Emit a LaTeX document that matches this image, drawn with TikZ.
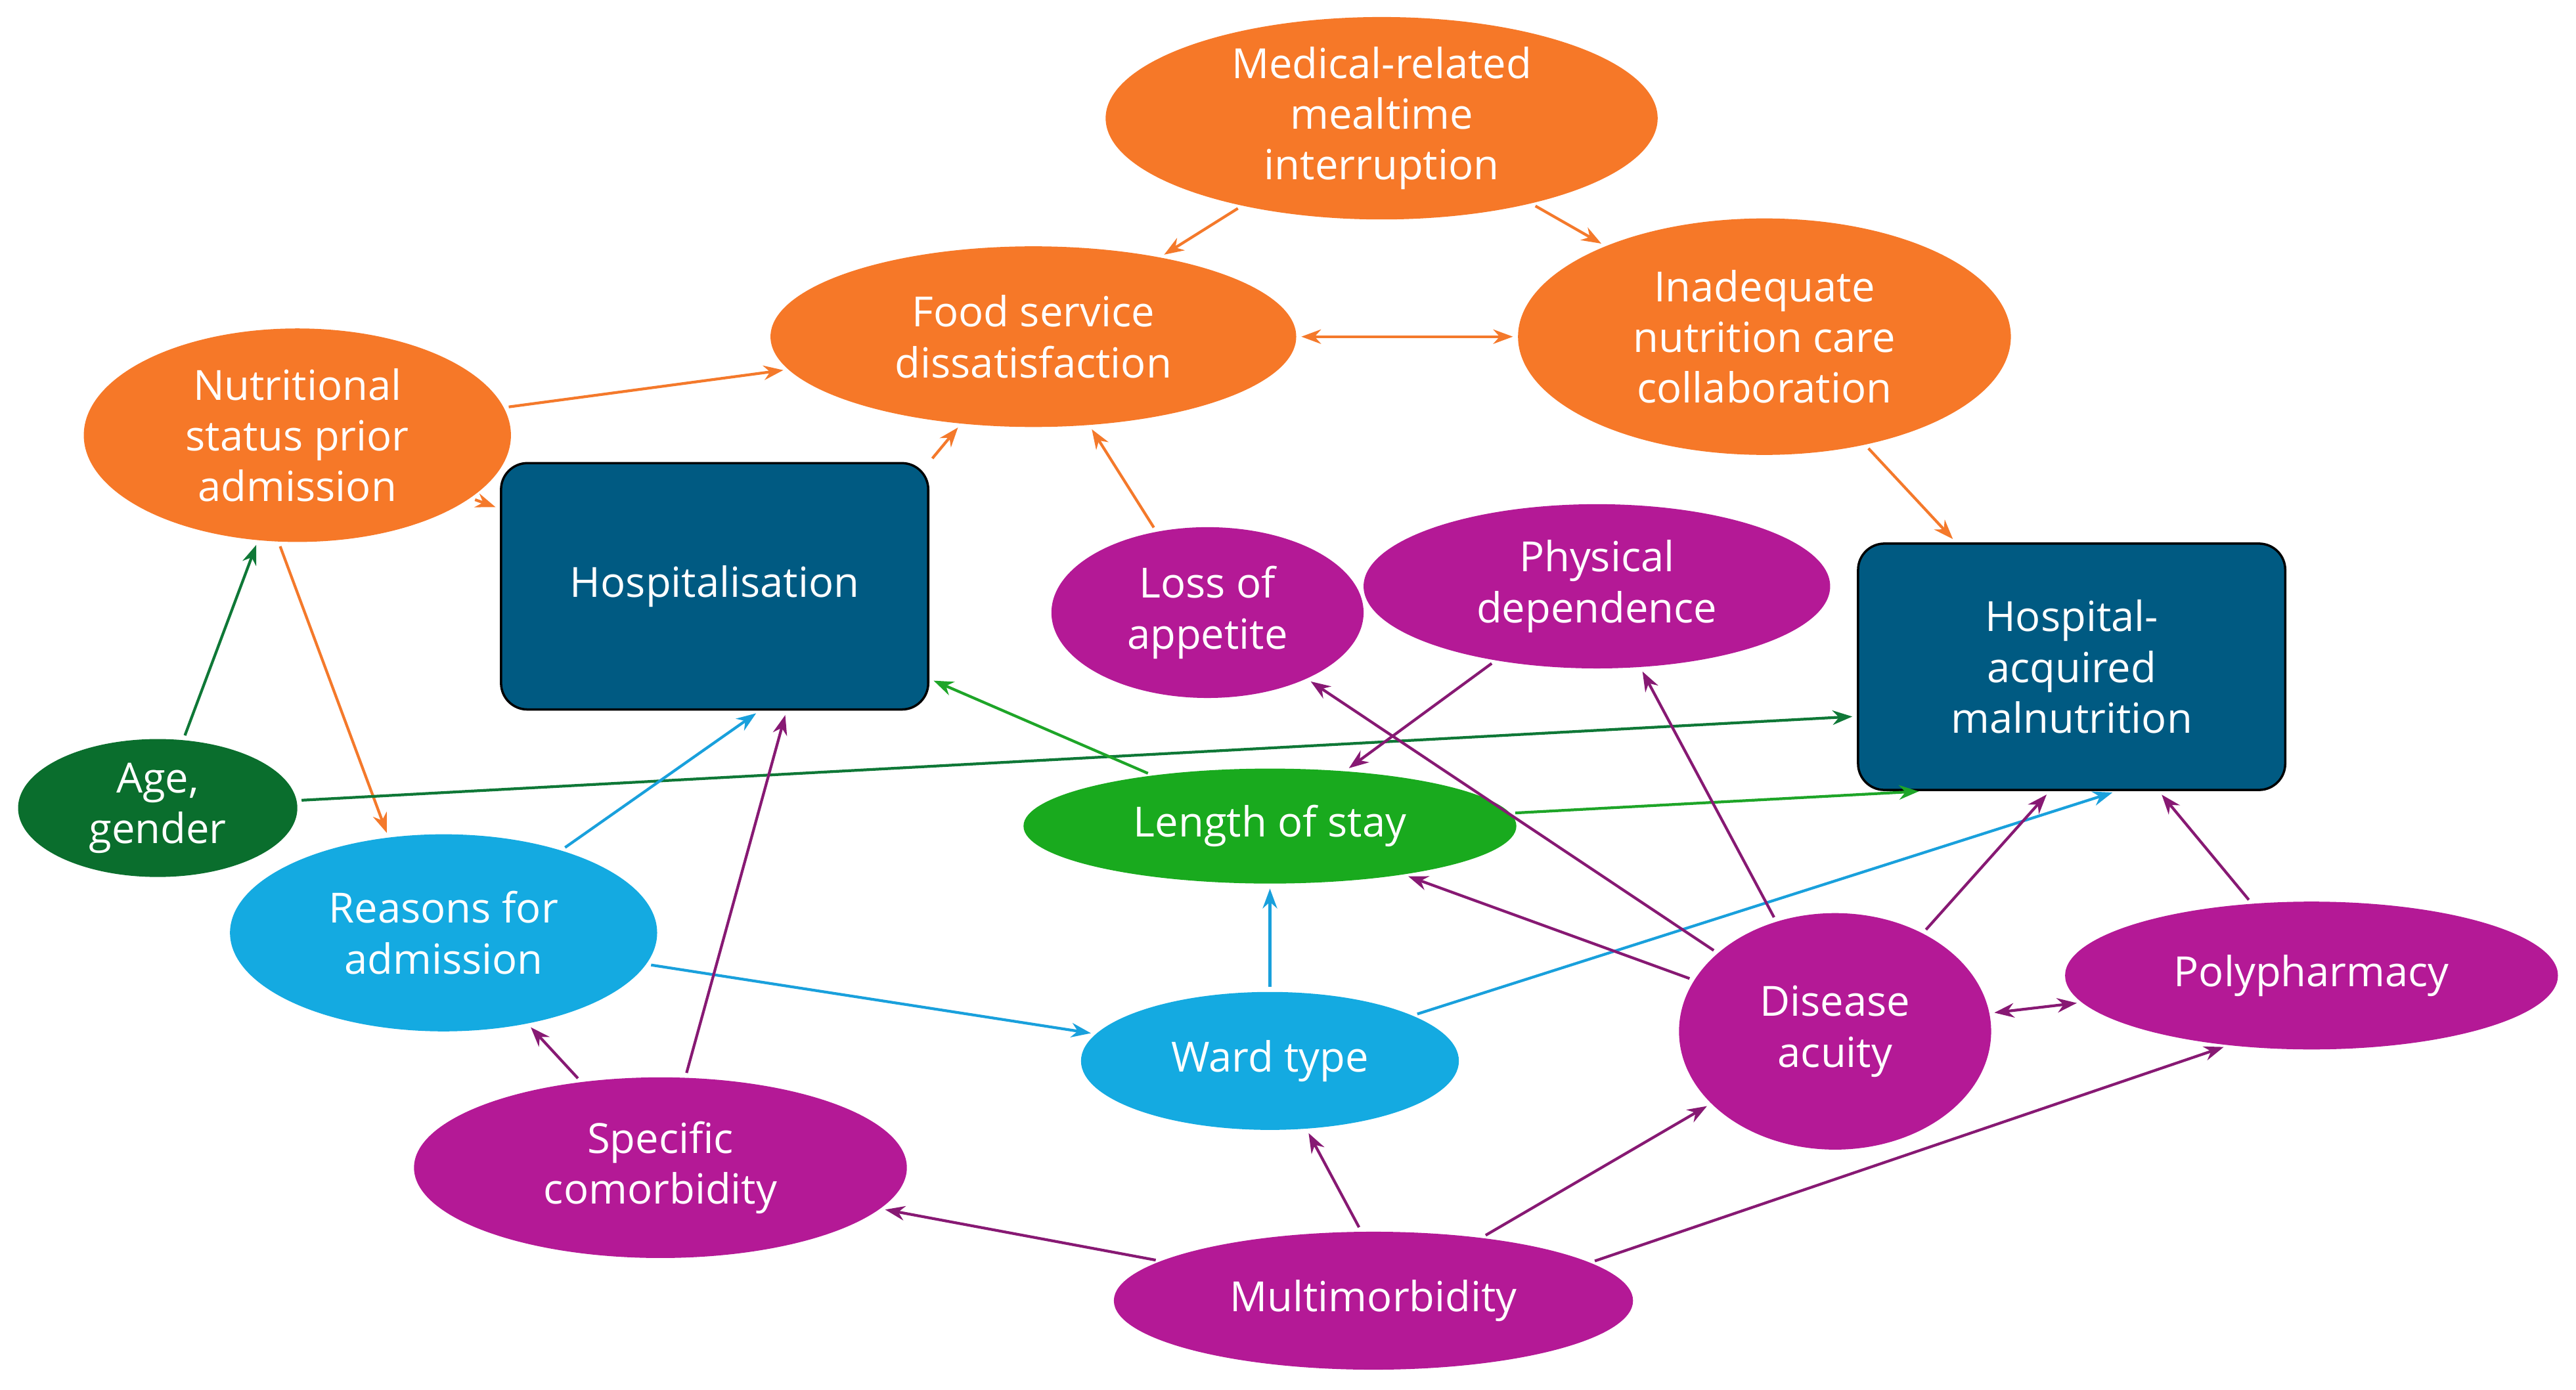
\documentclass[tikz,border=0pt]{standalone}
\usepackage{fontspec}
\setmainfont{Open Sans}
\usetikzlibrary{shapes.geometric,arrows.meta}
\definecolor{orng}{RGB}{246,120,40}
\definecolor{mgnt}{RGB}{180,25,150}
\definecolor{dblue}{RGB}{0,90,130}
\definecolor{cyn}{RGB}{20,170,225}
\definecolor{grn}{RGB}{25,170,30}
\definecolor{dgrn}{RGB}{10,110,45}
\definecolor{eorng}{RGB}{244,121,43}
\definecolor{emgnt}{RGB}{135,25,115}
\definecolor{ecyn}{RGB}{25,160,220}
\definecolor{egrn}{RGB}{30,165,40}
\definecolor{edgrn}{RGB}{15,120,55}
\tikzset{
  blob/.style={ellipse, inner sep=0pt, text=white, align=center,
    font=\fontsize{18}{22}\selectfont},
  box/.style={rectangle, rounded corners=4mm, draw=black, line width=1pt,
    fill=dblue, text=white, align=center, inner sep=0pt,
    font=\fontsize{18}{22}\selectfont},
  conn/.style={-{Stealth[length=3mm,width=2.2mm]}, line width=1.2pt, shorten >=2pt, shorten <=2pt},
}
\begin{document}
\begin{tikzpicture}[x=0.25mm,y=0.25mm,yscale=-1]
\useasboundingbox (0,0) rectangle (1568,846);

% nodes
\node[blob, fill=orng, minimum width=84mm, minimum height=30mm] (med) at (841,72) {Medical-related\\mealtime\\interruption};
\node[blob, fill=orng, minimum width=80mm, minimum height=27.5mm] (food) at (629,205) {Food service\\dissatisfaction};
\node[blob, fill=orng, minimum width=75mm, minimum height=36mm] (inad) at (1074,205) {Inadequate\\nutrition care\\collaboration};
\node[blob, fill=orng, minimum width=65mm, minimum height=32.5mm] (nutr) at (181,265) {Nutritional\\status prior\\admission};
\node[box, minimum width=65mm, minimum height=37.5mm] (hosp) at (435,357) {Hospitalisation};
\node[blob, fill=mgnt, minimum width=47.5mm, minimum height=26mm] (loss) at (735,373) {Loss of\\appetite};
\node[blob, fill=mgnt, minimum width=71mm, minimum height=25mm] (phys) at (972,357) {Physical\\dependence};
\node[box, minimum width=65mm, minimum height=37.5mm] (ham) at (1261,406) {Hospital-\\acquired\\malnutrition};
\node[blob, fill=dgrn, minimum width=42.5mm, minimum height=21mm] (age) at (96,492) {Age,\\gender};
\node[blob, fill=grn, minimum width=75mm, minimum height=17.5mm] (los) at (773,503) {Length of stay};
\node[blob, fill=cyn, minimum width=65mm, minimum height=30mm] (reas) at (270,568) {Reasons for\\admission};
\node[blob, fill=mgnt, minimum width=47.5mm, minimum height=36mm] (dis) at (1117,628) {Disease\\acuity};
\node[blob, fill=mgnt, minimum width=75mm, minimum height=22.5mm] (poly) at (1407,594) {Polypharmacy};
\node[blob, fill=cyn, minimum width=57.5mm, minimum height=21mm] (ward) at (773,646) {Ward type};
\node[blob, fill=mgnt, minimum width=75mm, minimum height=27.5mm] (spec) at (402,711) {Specific\\comorbidity};
\node[blob, fill=mgnt, minimum width=79mm, minimum height=21mm] (multi) at (836,792) {Multimorbidity};

% orange
\draw[conn, eorng] (med) -- (food);
\draw[conn, eorng] (med) -- (inad);
\draw[conn, eorng, {Stealth[length=3mm,width=2.2mm]}-{Stealth[length=3mm,width=2.2mm]}] (food) -- (inad);
\draw[conn, eorng] (nutr) -- (food);
\draw[conn, eorng] (hosp.north east) -- (food);
\draw[conn, eorng] (loss) -- (food);
\draw[conn, eorng] (nutr) -- (hosp);
\draw[conn, eorng] (nutr.260) -- (reas.120);
\draw[conn, eorng] (inad) -- (ham);
% dark green
\draw[conn, edgrn] (age) -- (nutr);
\draw[conn, edgrn] (age) -- (ham.193);
% green
\draw[conn, egrn] (los) -- (hosp);
\draw[conn, egrn] (los) -- (ham.220);
% cyan
\draw[conn, ecyn] (reas) -- (hosp.290);
\draw[conn, ecyn] (reas) -- (ward);
\draw[conn, ecyn] (ward) -- (los);
\draw[conn, ecyn] (ward) -- (ham.290);
% magenta
\draw[conn, emgnt] (phys) -- (los);
\draw[conn, emgnt] (dis) -- (loss);
\draw[conn, emgnt] (dis) -- (phys);
\draw[conn, emgnt] (dis) -- (los);
\draw[conn, emgnt] (dis) -- (ham.260);
\draw[conn, emgnt, {Stealth[length=3mm,width=2.2mm]}-{Stealth[length=3mm,width=2.2mm]}] (dis) -- (poly);
\draw[conn, emgnt] (poly) -- (ham.305);
\draw[conn, emgnt] (spec) -- (reas);
\draw[conn, emgnt] (spec) -- (hosp.300);
\draw[conn, emgnt] (multi) -- (spec);
\draw[conn, emgnt] (multi.100) -- (ward);
\draw[conn, emgnt] (multi) -- (dis);
\draw[conn, emgnt] (multi.10) -- (poly.220);
\end{tikzpicture}
\end{document}
